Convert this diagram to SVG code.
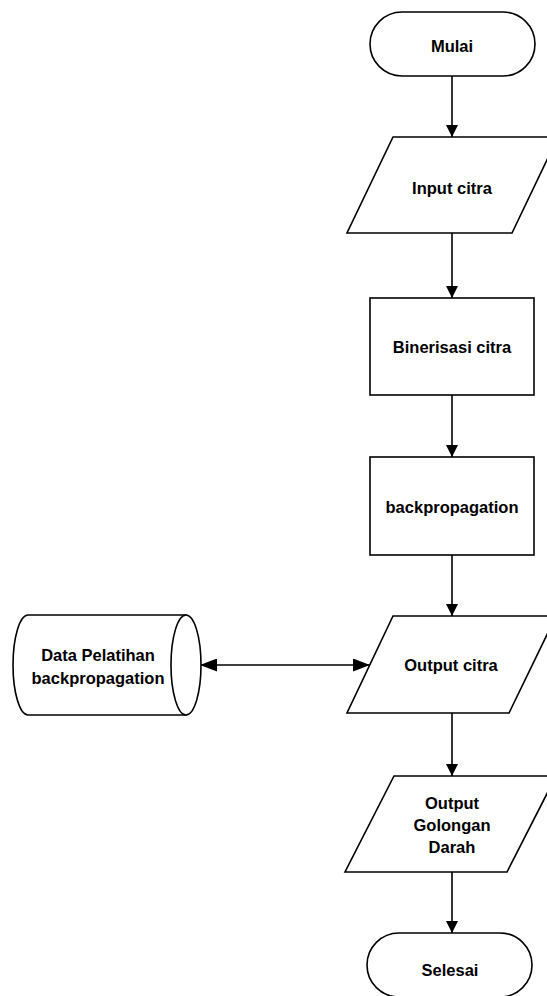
<svg xmlns="http://www.w3.org/2000/svg" width="547" height="996" viewBox="0 0 547 996">
  <style>
    .shape { fill: #ffffff; stroke: #000000; stroke-width: 1.6; }
    .line { fill: none; stroke: #000000; stroke-width: 1.6; }
    .label { font-family: "Liberation Sans", Arial, sans-serif; font-size: 16.5px; font-weight: bold; fill: #000000; text-anchor: middle; }
  </style>
  <defs>
    <marker id="arrow" markerUnits="userSpaceOnUse" markerWidth="12" markerHeight="12" refX="12" refY="6" orient="auto-start-reverse">
      <path d="M0,0 L12,6 L0,12 Z" fill="#000000"/>
    </marker>
    <marker id="arrow-long" markerUnits="userSpaceOnUse" markerWidth="17" markerHeight="13" refX="17" refY="6.5" orient="auto-start-reverse">
      <path d="M0,0 L17,6.5 L0,13 Z" fill="#000000"/>
    </marker>
  </defs>

  <rect width="547" height="996" fill="#ffffff"/>

  <!-- connectors -->
  <g id="connectors">
    <line class="line" x1="452" y1="76" x2="452" y2="137" marker-end="url(#arrow)"/>
    <line class="line" x1="452" y1="233" x2="452" y2="298" marker-end="url(#arrow)"/>
    <line class="line" x1="452" y1="395" x2="452" y2="457" marker-end="url(#arrow)"/>
    <line class="line" x1="452" y1="555" x2="452" y2="616" marker-end="url(#arrow)"/>
    <line class="line" x1="452" y1="713" x2="452" y2="776" marker-end="url(#arrow)"/>
    <line class="line" x1="452" y1="872" x2="452" y2="933" marker-end="url(#arrow)"/>
    <line class="line" x1="200" y1="665" x2="370" y2="665" marker-start="url(#arrow-long)" marker-end="url(#arrow-long)"/>
  </g>

  <!-- start -->
  <g id="mulai">
    <rect class="shape" x="370" y="12" width="165" height="64" rx="32" ry="32"/>
    <text class="label" x="452" y="52">Mulai</text>
  </g>

  <!-- image input -->
  <g id="input-citra">
    <polygon class="shape" points="393,137 558,137 512,233 347,233"/>
    <text class="label" x="452" y="194">Input citra</text>
  </g>

  <!-- binarisation -->
  <g id="binerisasi">
    <rect class="shape" x="370" y="298" width="164" height="97"/>
    <text class="label" x="452" y="353">Binerisasi citra</text>
  </g>

  <!-- network -->
  <g id="backpropagation">
    <rect class="shape" x="370" y="457" width="164" height="98"/>
    <text class="label" x="452" y="513">backpropagation</text>
  </g>

  <!-- image output -->
  <g id="output-citra">
    <polygon class="shape" points="393,616 556,616 509,713 347,713"/>
    <text class="label" x="451" y="671">Output citra</text>
  </g>

  <!-- training data store -->
  <g id="data-pelatihan">
    <path class="shape" d="M28,615 L186,615 L186,715 L28,715 A15,50 0 0 1 28,615 Z"/>
    <ellipse class="shape" cx="186" cy="665" rx="15" ry="50"/>
    <text class="label" x="98" y="661">Data Pelatihan</text>
    <text class="label" x="98" y="684">backpropagation</text>
  </g>

  <!-- blood group output -->
  <g id="output-golongan">
    <polygon class="shape" points="394,776 556,776 507,872 345,872"/>
    <text class="label" x="452" y="809">Output</text>
    <text class="label" x="452" y="831">Golongan</text>
    <text class="label" x="452" y="853">Darah</text>
  </g>

  <!-- end -->
  <g id="selesai">
    <rect class="shape" x="367" y="933" width="165" height="64" rx="32" ry="32"/>
    <text class="label" x="450" y="976">Selesai</text>
  </g>
</svg>
